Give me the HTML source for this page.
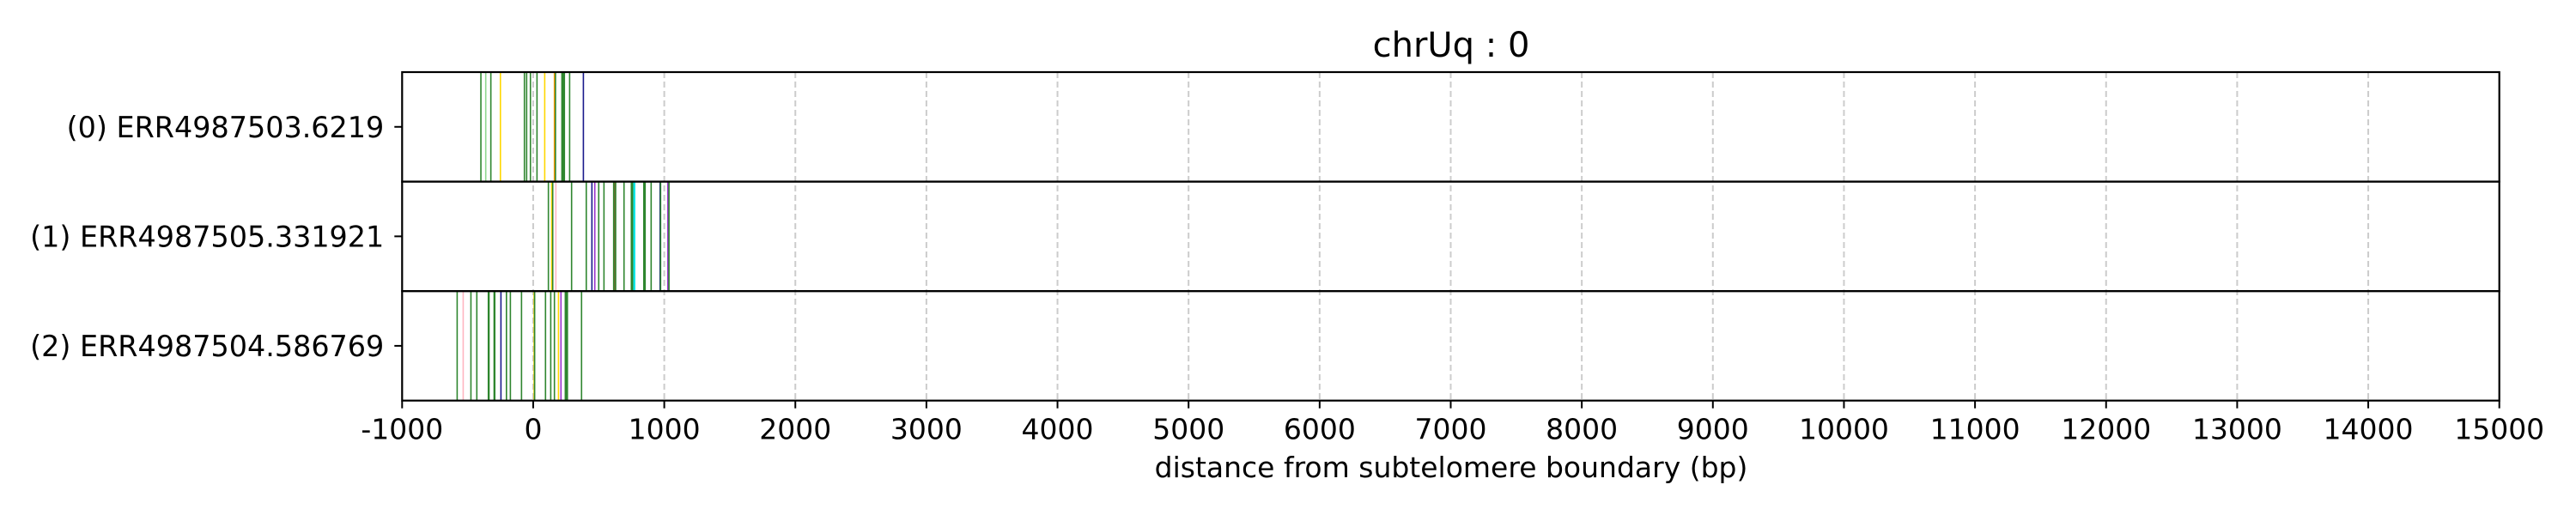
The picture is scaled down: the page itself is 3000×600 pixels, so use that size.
<!DOCTYPE html>
<html><head><meta charset="utf-8"><style>
html,body{margin:0;padding:0;background:#fff}
svg{display:block;font-family:"DejaVu Sans","Liberation Sans",sans-serif}
</style></head><body>
<svg id="chart" width="3000" height="600" viewBox="0 0 3000 600" xmlns="http://www.w3.org/2000/svg">
<text x="1690" y="66" font-size="40" text-anchor="middle">chrUq : 0</text>
<text x="1690" y="556" font-size="33" text-anchor="middle">distance from subtelomere boundary (bp)</text>
<g id="grid"></g><g id="marks"></g><g id="axes"></g>
</svg>
<script>
const rowLabels = ["(0) ERR4987503.6219","(1) ERR4987505.331921","(2) ERR4987504.586769"];
const xTicks = [-1000,0,1000,2000,3000,4000,5000,6000,7000,8000,9000,10000,11000,12000,13000,14000,15000];
const row0Pos = [-399,-362,-323,-250,-67,-50,-21,29,88,162,170,219,225,231,238,278,383];
const row0Col = ["g","lg","g","y","g","g","g","g","y","o","g","g","g","g","g","g","n"];
const row1Pos = [116,141,149,173,293,405,448,470,500,540,614,625,629,693,749,758,769,774,844,854,900,968,972,1027,1036];
const row1Col = ["g","y","g","p","g","g","n","pu","g","g","g","br","g","g","g","g","c","c","g","g","g","n","g","pu","g"];
const row2Pos = [-580,-534,-475,-430,-342,-337,-298,-293,-246,-204,-174,-89,7,11,94,134,162,193,212,245,253,261,369];
const row2Col = ["g","p","g","g","g","g","g","g","n","g","g","g","y","g","g","g","g","y","pu","g","g","g","g"];
const colorMap = {g:"#2f862f",lg:"#90d890",y:"#ffd700",o:"#ff9900",n:"#1a1a8c",p:"#ffb6c1",pu:"#9932cc",br:"#8b4513",c:"#00e5e5"};

const L=468.3,R=2910.7,T=84,B=466.7,XMIN=-1000,XMAX=15000;
const rowH=(B-T)/3;
function xs(v){return L+(v-XMIN)/(XMAX-XMIN)*(R-L);}
const NS="http://www.w3.org/2000/svg";
function mk(tag,attrs,parent){const e=document.createElementNS(NS,tag);for(const k in attrs)e.setAttribute(k,attrs[k]);parent.appendChild(e);return e;}
const grid=document.getElementById('grid'),marks=document.getElementById('marks'),axes=document.getElementById('axes');
xTicks.forEach((t,i)=>{
  const x=xs(t);
  if(i>0&&i<xTicks.length-1){
    const g=mk('line',{x1:x,x2:x,y1:T,y2:B,stroke:"#cccccc","stroke-width":2,"stroke-dasharray":"7,4"},grid);
    
    
  }
  const tk=mk('line',{x1:x,x2:x,y1:B,y2:B+9,stroke:"#000","stroke-width":2},axes);
  
  
  const tl=mk('text',{x:x,y:B+45,"font-size":33,"text-anchor":"middle"},axes);
  tl.textContent=t;
  
  
});
const rows=[[row0Pos,row0Col],[row1Pos,row1Col],[row2Pos,row2Col]];
rows.forEach((r,ri)=>{
  const y0=T+ri*rowH,y1=y0+rowH;
  r[0].forEach((v,j)=>{
    const x=xs(v);
    const m=mk('line',{x1:x,x2:x,y1:y0,y2:y1,stroke:colorMap[r[1][j]],"stroke-width":1.6},marks);
    
    
  });
  const yc=(y0+y1)/2;
  const tk=mk('line',{x1:L-9,x2:L,y1:yc,y2:yc,stroke:"#000","stroke-width":2},axes);
  
  
  const lb=mk('text',{x:L-21,y:yc+12,"font-size":33.4,"text-anchor":"end"},axes);
  lb.textContent=rowLabels[ri];
  
  
  const bx=mk('rect',{x:L,y:y0,width:R-L,height:rowH,fill:"none",stroke:"#000","stroke-width":2.2},axes);
  
  
});
</script>
</body></html>
